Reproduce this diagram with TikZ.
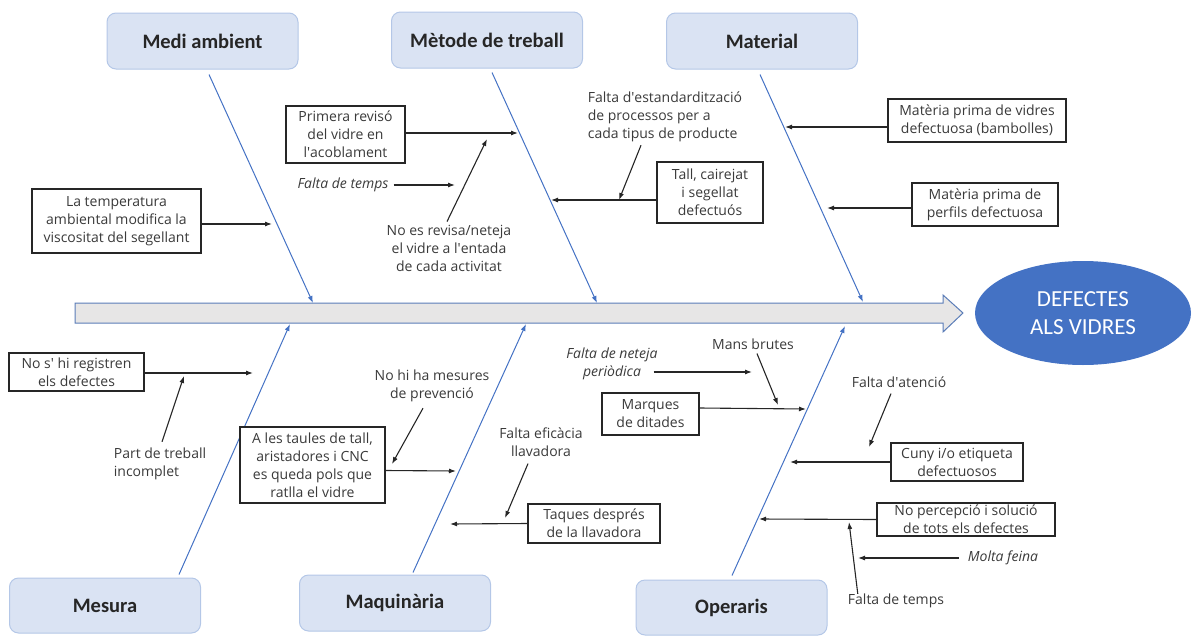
\documentclass[tikz,border=0pt]{standalone}
\usepackage{fontspec}
\setmainfont{Carlito}
\newfontfamily\causefont{Open Sans}
\usetikzlibrary{arrows.meta,shapes.geometric}
\definecolor{catfill}{HTML}{DAE3F3}
\definecolor{catedge}{HTML}{B4C7E7}
\definecolor{bone}{HTML}{4472C4}
\definecolor{spinefill}{HTML}{E7E6E6}
\definecolor{spineedge}{HTML}{5B7DB8}
\definecolor{txt}{HTML}{3A3A3A}
\newcommand{\apos}{\textquotesingle}

\begin{document}
\begin{tikzpicture}[x=1pt,y=-1pt,
  cat/.style={draw=catedge, line width=1pt, fill=catfill, rounded corners=9pt,
    font=\fontsize{20.5}{24}\selectfont\bfseries, text=black!85,
    minimum width=191pt, minimum height=56pt, inner sep=0pt},
  cbox/.style={draw=black!85, line width=1.2pt, fill=white, align=center,
    inner sep=0pt, font=\causefont\fontsize{14}{18}\selectfont, text=txt},
  note/.style={align=center, inner sep=3pt, font=\causefont\fontsize{14}{18}\selectfont, text=txt},
  inote/.style={note, font=\causefont\fontsize{14}{18}\selectfont\itshape},
  carrow/.style={draw=black!85, line width=1.1pt, -{Latex[length=7pt,width=5pt]}},
  bonearrow/.style={draw=bone, line width=1pt, -{Latex[length=7pt,width=5pt]}},
]
\useasboundingbox (0,0) rectangle (1192,635);

% ---- spine and effect ----
\path[fill=spinefill, draw=spineedge, line width=1pt]
  (75,303) -- (943,303) -- (943,295) -- (963,313) -- (943,332) -- (943,323) -- (75,323) -- cycle;
\node[ellipse, fill=bone, minimum width=216pt, minimum height=104pt, inner sep=0pt,
  text=white, align=center, font=\fontsize{23}{28}\selectfont] (eff) at (1083,313)
  {DEFECTES\\ALS VIDRES};

% ---- categories ----
\node[cat] (medi) at (202.5,41) {Medi ambient};
\node[cat] (meto) at (487,40) {Mètode de treball};
\node[cat] (mat)  at (762,41) {Material};
\node[cat, minimum height=55pt] (mes)  at (105,605.5) {Mesura};
\node[cat] (maq)  at (395,603) {Maquinària};
\node[cat, minimum height=55pt] (oper) at (731.5,607.5) {Operaris};

% ---- bones ----
\coordinate (b1e) at (313,303);
\coordinate (b2e) at (597,303);
\coordinate (b3e) at (863,302);
\coordinate (b4e) at (290,324);
\coordinate (b5e) at (526,324);
\coordinate (b6e) at (845,326);
\draw[bonearrow] ([xshift=6.5pt,yshift=-5pt]medi.south) -- (b1e);
\draw[bonearrow] ([xshift=5pt,yshift=-4pt]meto.south) -- (b2e);
\draw[bonearrow] ([xshift=-2pt,yshift=-5pt]mat.south) -- (b3e);
\draw[bonearrow] ([xshift=-22pt,yshift=3pt]mes.north east) -- (b4e);
\draw[bonearrow] ([xshift=18pt,yshift=2pt]maq.north) -- (b5e);
\draw[bonearrow] ([xshift=0.5pt,yshift=4pt]oper.north) -- (b6e);

% ---- Medi ambient ----
\node[cbox, minimum width=169pt, minimum height=64pt] (temp) at (116.5,221)
  {La temperatura\\ambiental modifica la\\viscositat del segellant};
\coordinate (tempE) at (272,224);
\draw[carrow] ([yshift=-3pt]temp.east) -- (tempE);

% ---- Mètode de treball ----
\node[cbox, minimum width=119pt, minimum height=57pt] (prim) at (345.5,134.5)
  {Primera revisó\\del vidre en\\l\apos acoblament};
\coordinate (primE) at (518,133);
\draw[carrow] ([yshift=1.5pt]prim.east) -- (primE);

\node[inote] (ft1) at (343,185) {Falta de temps};
\coordinate (ft1E) at (455,185);
\draw[carrow] ([xshift=2pt]ft1.east) -- (ft1E);

\node[note] (noes) at (449,248) {No es revisa/neteja\\el vidre a l\apos entada\\de cada activitat};
\coordinate (noesE) at (487,139);
\draw[carrow] ([xshift=-2pt]noes.north) -- (noesE);

\node[cbox, minimum width=106pt, minimum height=61pt] (tall) at (710,192.5)
  {Tall, cairejat\\i segellat\\defectuós};
\coordinate (tallE) at (551,200);
\draw[carrow] ([yshift=-7.5pt]tall.west) -- (tallE);

\node[note, align=left] (fest) at (665,117)
  {Falta d\apos estandardització\\de processos per a\\cada tipus de producte};
\coordinate (festE) at (619,200);
\draw[carrow] ([xshift=-24pt]fest.south) -- (festE);

% ---- Material ----
\node[cbox, minimum width=178pt, minimum height=43pt] (mpv) at (977,120.5)
  {Matèria prima de vidres\\defectuosa (bambolles)};
\coordinate (mpvE) at (785,127);
\draw[carrow] ([yshift=-6.5pt]mpv.west) -- (mpvE);

\node[cbox, minimum width=146pt, minimum height=43pt] (mpp) at (985,204.5)
  {Matèria prima de\\perfils defectuosa};
\coordinate (mppE) at (827,208);
\draw[carrow] ([yshift=-3.5pt]mpp.west) -- (mppE);

% ---- Mesura ----
\node[cbox, minimum width=135pt, minimum height=38pt] (nosh) at (76.5,372)
  {No s\apos{} hi registren\\els defectes};
\coordinate (noshE) at (253,373);
\draw[carrow] ([yshift=-1pt]nosh.east) -- (noshE);

\node[note, align=left] (part) at (160,464) {Part de treball\\incomplet};
\coordinate (partE) at (184,376);
\draw[carrow] ([xshift=2pt,yshift=3pt]part.north) -- (partE);

% ---- Maquinària ----
\node[cbox, minimum width=145pt, minimum height=76pt] (ales) at (312.5,465)
  {A les taules de tall,\\aristadores i CNC\\es queda pols que\\ratlla el vidre};
\coordinate (alesE) at (456,471);
\draw[carrow] ([yshift=-5.5pt]ales.east) -- (alesE);

\node[note] (nohi) at (432,386) {No hi ha mesures\\de prevenció};
\coordinate (nohiE) at (392,464);
\draw[carrow] ([xshift=-9pt,yshift=-3pt]nohi.south) -- (nohiE);

\node[cbox, minimum width=132pt, minimum height=39pt] (taq) at (594,523.5)
  {Taques després\\de la llavadora};
\coordinate (taqE) at (450,524);
\draw[carrow] (taq.west) -- (taqE);

\node[note] (feff) at (541,442) {Falta eficàcia\\llavadora};
\coordinate (feffE) at (505,518);
\draw[carrow] ([xshift=-13pt,yshift=-4pt]feff.south) -- (feffE);

% ---- Operaris ----
\node[cbox, minimum width=97pt, minimum height=42pt] (marq) at (650.5,414)
  {Marques\\de ditades};
\coordinate (marqE) at (806,409);
\draw[carrow] ([yshift=6pt]marq.east) -- (marqE);

\node[inote] (fnet) at (612,364) {Falta de neteja\\periòdica};
\coordinate (fnetE) at (752,372);
\draw[carrow] ([xshift=-7pt,yshift=-8pt]fnet.east) -- (fnetE);

\node[note] (mans) at (753,344) {Mans brutes};
\coordinate (mansE) at (778,405);
\draw[carrow] ([xshift=4pt,yshift=-1pt]mans.south) -- (mansE);

\node[cbox, minimum width=132pt, minimum height=38pt] (cuny) at (957,462)
  {Cuny i/o etiqueta\\defectuosos};
\coordinate (cunyE) at (790,462);
\draw[carrow] (cuny.west) -- (cunyE);

\node[note] (fat) at (899,382) {Falta d\apos atenció};
\coordinate (fatE) at (869,447);
\draw[carrow] ([xshift=-8pt,yshift=-3pt]fat.south) -- (fatE);

\node[cbox, minimum width=178pt, minimum height=33pt] (noperc) at (966,519.5)
  {No percepció i solució\\de tots els defectes};
\coordinate (nopercE) at (759,519);
\draw[carrow] (noperc.west) -- (nopercE);

\node[note] (ft2) at (896,601) {Falta de temps};
\coordinate (ft2E) at (849,522);
\draw[carrow] ([xshift=13pt,yshift=-3pt]ft2.north west) -- (ft2E);

\node[inote] (molta) at (1003,558) {Molta feina};
\coordinate (moltaE) at (858,558);
\draw[carrow] ([xshift=-6pt]molta.west) -- (moltaE);

\end{tikzpicture}
\end{document}
